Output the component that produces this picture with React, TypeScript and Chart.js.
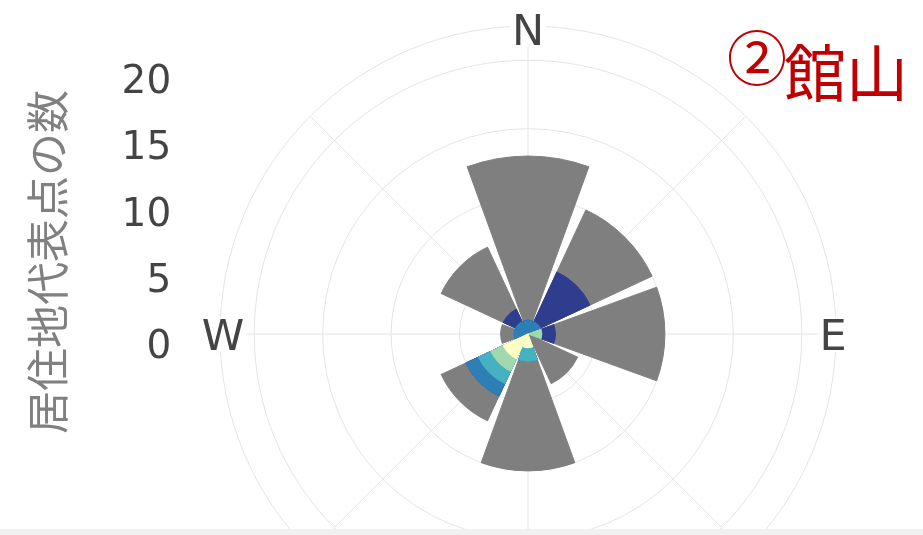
import React, { useEffect, useRef } from 'react';
import { Chart, registerables } from 'chart.js';

Chart.register(...registerables);

// ---- data ----
const directions = ['N', 'NE', 'E', 'SE', 'S', 'SW', 'W', 'NW'];
const compassLabels = ['N', 'E', 'S', 'W'];
const seriesNames = ['区分1', '区分2', '区分3', '区分4', '区分5', '区分6'];
const seriesColors = ['#ffffc4', '#a1d8ae', '#45b1c2', '#2d7fb6', '#2f3d8e', '#7f7f7f'];
// values per direction (N, NE, E, SE, S, SW, W, NW), innermost series first
const series1 = [0, 0, 0, 0, 1, 2, 0, 0];
const series2 = [0, 0, 1, 0, 0, 1, 0, 0];
const series3 = [0, 0, 0, 0, 1, 1, 0, 0];
const series4 = [1, 1, 0, 0, 0, 1, 1, 1];
const series5 = [0, 4, 1, 0, 0, 0, 0, 1];
const series6 = [12, 5, 8, 4, 8, 2, 1, 5];
const seriesList = [series1, series2, series3, series4, series5, series6];
const axisTicks = [0, 5, 10, 15, 20];
const axisTitle = '居住地代表点の数';
const chartTitleNumber = '②';
const chartTitleName = '館山';

const WEDGE = 40;
const GAP = 5;

// cumulative stacks
const cumulative: number[][] = [];
seriesList.forEach((s, k) => {
  cumulative.push(s.map((v, d) => v + (k > 0 ? cumulative[k - 1][d] : 0)));
});

// N wedge is split in two halves around the start angle; gaps are zero items
function toItems(vals: number[]): number[] {
  const out: number[] = [vals[0], 0];
  for (let d = 1; d < vals.length; d++) out.push(vals[d], 0);
  out.push(vals[0]);
  return out;
}
const itemAngles: number[] = [WEDGE / 2, GAP];
for (let d = 1; d < directions.length; d++) itemAngles.push(WEDGE, GAP);
itemAngles.push(WEDGE / 2);
const itemIsGap: boolean[] = [false, true];
for (let d = 1; d < directions.length; d++) itemIsGap.push(false, true);
itemIsGap.push(false);

const compassPlugin = {
  id: 'compassLabels',
  afterDraw(chart: any) {
    const scale = chart.scales.r;
    const ctx = chart.ctx;
    ctx.save();
    const size = 43;
    ctx.font = `${size}px "DejaVu Sans"`;
    ctx.textAlign = 'center';
    ctx.textBaseline = 'alphabetic';
    const capH = size * 0.729;
    compassLabels.forEach((lbl) => {
      const i = directions.indexOf(lbl);
      const p = scale.getPointPosition(i, scale.drawingArea - 3);
      const w = ctx.measureText(lbl).width;
      ctx.fillStyle = '#ffffff';
      ctx.fillRect(p.x - w / 2 - 2, p.y - capH / 2 - 2, w + 4, capH + 4);
      ctx.fillStyle = '#444444';
      ctx.fillText(lbl, p.x, p.y + capH / 2);
    });
    ctx.restore();
  },
};

export default function App() {
  const polarRef = useRef<HTMLCanvasElement>(null);
  const axisRef = useRef<HTMLCanvasElement>(null);

  useEffect(() => {
    Chart.defaults.font.family = '"DejaVu Sans"';
    const grid = '#e4e4e4';
    const polar = new Chart(polarRef.current as HTMLCanvasElement, {
      type: 'polarArea',
      data: {
        labels: directions,
        datasets: cumulative.map((vals, k) => ({
          label: seriesNames[k],
          data: toItems(vals),
          backgroundColor: seriesColors[k],
          borderColor: seriesColors[k],
          borderWidth: (c: any) => (itemIsGap[c.dataIndex] || !c.raw ? 0 : 1),
          angle: (c: any) => itemAngles[c.dataIndex],
        })),
      },
      options: {
        responsive: false,
        animation: false,
        events: [],
        layout: { padding: 40 },
        plugins: { legend: { display: false }, tooltip: { enabled: false } },
        scales: {
          r: {
            min: 0,
            max: 22.5,
            startAngle: 0,
            ticks: { display: false, stepSize: 5 },
            grid: { color: grid, lineWidth: 1, circular: true },
            angleLines: { display: true, color: grid, lineWidth: 1 },
            pointLabels: { display: false },
          },
        },
      } as any,
      plugins: [compassPlugin],
    });

    const axis = new Chart(axisRef.current as HTMLCanvasElement, {
      type: 'line',
      data: { labels: [], datasets: [] },
      options: {
        responsive: false,
        animation: false,
        events: [],
        layout: { padding: { top: 30, bottom: 30, left: 18, right: 0 } },
        plugins: { legend: { display: false }, tooltip: { enabled: false } },
        scales: {
          x: { display: false },
          y: {
            type: 'linear',
            min: -7,
            max: axisTicks[axisTicks.length - 1],
            afterBuildTicks: (s: any) => {
              s.ticks = axisTicks.map((v) => ({ value: v }));
            },
            ticks: { color: '#444444', font: { size: 39, family: '"DejaVu Sans"' }, padding: 3 },
            grid: { display: false, drawTicks: false },
            border: { display: false },
            title: {
              display: true,
              text: axisTitle,
              color: '#808080',
              font: { size: 43, family: '"Noto Sans CJK JP"' },
              padding: { top: 4, bottom: 45 },
            },
          },
        },
      } as any,
    });

    return () => {
      polar.destroy();
      axis.destroy();
    };
  }, []);

  return (
    <div
      style={{
        position: 'fixed',
        left: 0,
        top: 0,
        width: 923,
        height: 535,
        overflow: 'hidden',
        background: '#ffffff',
      }}
    >
      <canvas ref={axisRef} width={460} height={418} style={{ position: 'absolute', left: 0, top: 53 }} />
      <canvas ref={polarRef} width={697} height={697} style={{ position: 'absolute', left: 180, top: -14 }} />
      <span
        style={{
          position: 'absolute',
          left: 727,
          top: 25,
          fontSize: 60,
          lineHeight: 1,
          color: '#c00000',
          fontFamily: '"Noto Sans CJK JP"',
          whiteSpace: 'nowrap',
        }}
      >
        {chartTitleNumber}
      </span>
      <span
        style={{
          position: 'absolute',
          left: 784,
          top: 39,
          fontSize: 62,
          lineHeight: 1,
          color: '#c00000',
          fontFamily: '"Noto Sans CJK JP"',
          whiteSpace: 'nowrap',
        }}
      >
        {chartTitleName}
      </span>
      <div style={{ position: 'absolute', left: 0, top: 529, width: 923, height: 6, background: '#f1f1f1' }} />
    </div>
  );
}
